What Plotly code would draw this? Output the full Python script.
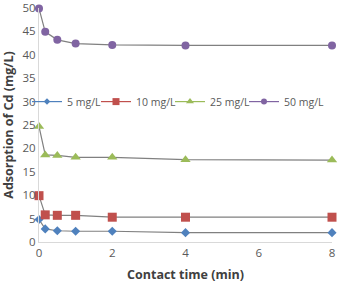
import plotly.graph_objects as go

time_min = [0, 0.17, 0.5, 1, 2, 4, 8]
series_names = ["5 mg/L", "10 mg/L", "25 mg/L", "50 mg/L"]
cd_5 = [4.8, 2.8, 2.4, 2.3, 2.3, 2.0, 2.0]
cd_10 = [9.9, 5.8, 5.7, 5.7, 5.3, 5.3, 5.3]
cd_25 = [24.7, 18.6, 18.5, 18.1, 18.1, 17.6, 17.5]
cd_50 = [49.9, 44.9, 43.2, 42.4, 42.1, 42.0, 42.0]
x_ticks = [0, 2, 4, 6, 8]
y_ticks = [0, 5, 10, 15, 20, 25, 30, 35, 40, 45, 50]

values = [cd_5, cd_10, cd_25, cd_50]
colors = ["#4F81BD", "#C0504D", "#9BBB59", "#8064A2"]
symbols = ["diamond", "square", "triangle-up", "circle"]
sizes = [7, 9, 9, 8]
legend_ids = ["legend", "legend2", "legend3", "legend4"]
legend_x_px = [27, 96, 170, 244]

fig = go.Figure()
for name, vals, c, s, sz in zip(series_names, values, colors, symbols, sizes):
    fig.add_trace(go.Scatter(
        x=time_min, y=vals, mode="lines+markers", showlegend=False,
        line=dict(color="#808080", width=1.2),
        marker=dict(color=c, symbol=s, size=sz),
        cliponaxis=False,
    ))
for name, c, s, sz, lid in zip(series_names, colors, symbols, sizes, legend_ids):
    fig.add_trace(go.Scatter(
        x=[None], y=[None], mode="lines+markers", name=name, legend=lid,
        line=dict(color=c, width=1.2),
        marker=dict(color=c, symbol=s, size=sz - 2),
    ))

plot_l, plot_w = 39, 293
legend_layout = {}
for lid, px in zip(legend_ids, legend_x_px):
    legend_layout[lid] = dict(
        orientation="h", x=(px - plot_l) / plot_w, y=0.6,
        xanchor="left", yanchor="middle",
        bgcolor="rgba(255,255,255,0)", font=dict(size=10.5, color="#595959"),
        itemwidth=30,
    )

fig.update_layout(
    width=339, height=284,
    margin=dict(l=plot_l, r=7, t=8, b=42, autoexpand=False),
    paper_bgcolor="white", plot_bgcolor="white",
    font=dict(family="Open Sans, DejaVu Sans, sans-serif", size=11.5, color="#595959"),
    xaxis=dict(
        range=[0, 8], tickvals=x_ticks, showgrid=False, zeroline=False,
        showline=True, linecolor="#D9D9D9", linewidth=1, ticks="",
        title=dict(text="<b>Contact time (min)</b>", font=dict(size=12.5, color="#404040"), standoff=11),
    ),
    yaxis=dict(
        range=[0, 50], tickvals=y_ticks, showgrid=False, zeroline=False,
        showline=True, linecolor="#D9D9D9", linewidth=1, ticks="",
        ticklabeloverflow="allow",
        title=dict(text="<b>Adsorption of Cd (mg/L)</b>", font=dict(size=12.5, color="#404040"), standoff=6),
    ),
    **legend_layout,
)

fig.write_html("out.html")
